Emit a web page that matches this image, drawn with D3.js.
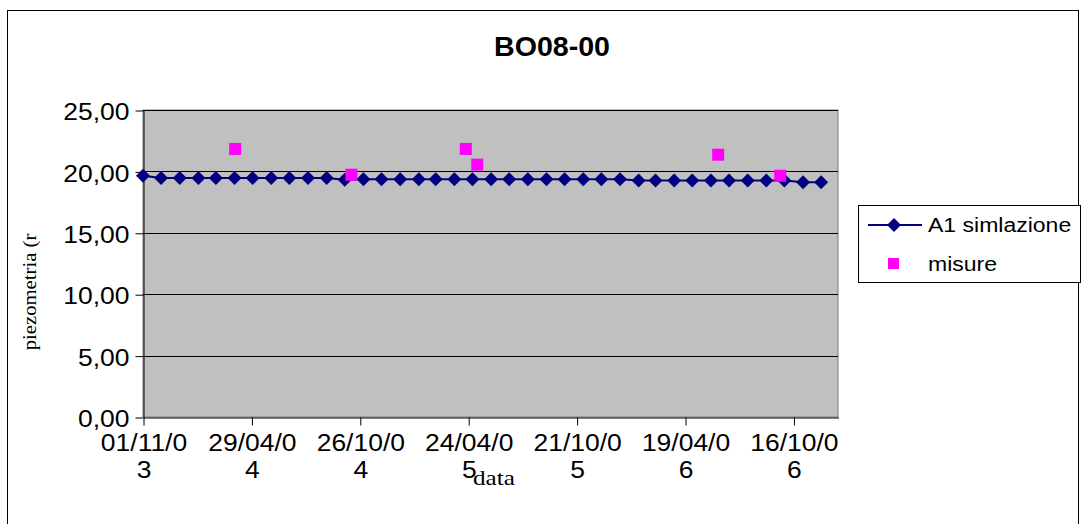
<!DOCTYPE html>
<html>
<head>
<meta charset="utf-8">
<script src="https://cdn.jsdelivr.net/npm/d3@7"></script>
<style>
  html, body { margin: 0; padding: 0; background: #fff; }
  svg { display: block; }
</style>
</head>
<body>
<svg id="chart" width="1082" height="524"></svg>
<script>
// ---------------- DATA ----------------
const chartTitle = "BO08-00";
const yAxisTitle = "piezometria (r";
const xAxisTitle = "data";

const simDates = [
  "2003-11-01","2003-12-01","2004-01-01","2004-02-01","2004-03-01","2004-04-01",
  "2004-05-01","2004-06-01","2004-07-01","2004-08-01","2004-09-01","2004-10-01",
  "2004-11-01","2004-12-01","2005-01-01","2005-02-01","2005-03-01","2005-04-01",
  "2005-05-01","2005-06-01","2005-07-01","2005-08-01","2005-09-01","2005-10-01",
  "2005-11-01","2005-12-01","2006-01-01","2006-02-01","2006-03-01","2006-04-01",
  "2006-05-01","2006-06-01","2006-07-01","2006-08-01","2006-09-01","2006-10-01",
  "2006-11-01","2006-12-01"
];
const simValues = [
  19.65, 19.46, 19.46, 19.46, 19.46, 19.46, 19.46, 19.46, 19.46, 19.46,
  19.46, 19.32, 19.36, 19.36, 19.36, 19.36, 19.36, 19.36, 19.36, 19.36,
  19.36, 19.36, 19.36, 19.36, 19.36, 19.36, 19.36, 19.26, 19.26, 19.26,
  19.26, 19.26, 19.26, 19.26, 19.26, 19.26, 19.12, 19.12
];

const measDates  = ["2004-04-02","2004-10-12","2005-04-20","2005-05-09","2006-06-13","2006-09-24"];
const measValues = [21.83, 19.73, 21.83, 20.55, 21.36, 19.65];

const xDomain = ["2003-11-01", "2006-12-29"];
const xTickDates  = ["2003-11-01","2004-04-29","2004-10-26","2005-04-24","2005-10-21","2006-04-19","2006-10-16"];
const xTickLabels = [["01/11/0","3"],["29/04/0","4"],["26/10/0","4"],["24/04/0","5"],["21/10/0","5"],["19/04/0","6"],["16/10/0","6"]];

const yDomain = [0, 25];
const yTickValues = [0, 5, 10, 15, 20, 25];
const yTickLabels = ["0,00","5,00","10,00","15,00","20,00","25,00"];

const seriesNames = ["A1 simlazione", "misure"];

// ---------------- LAYOUT ----------------
const parse = d3.utcParse("%Y-%m-%d");
const svg = d3.select("#chart");
const plot = { left: 143, right: 838, top: 110, bottom: 417 };
const SANS = "'Liberation Sans', Arial, sans-serif";
const SERIF = "'Liberation Serif', 'Times New Roman', serif";
const STRETCH = 1.15;

function stretch(sel, f) {
  sel.each(function() {
    const len = this.getComputedTextLength();
    if (len > 0) {
      d3.select(this).attr("textLength", len * f).attr("lengthAdjust", "spacingAndGlyphs");
    }
  });
}

const x = d3.scaleUtc().domain(xDomain.map(parse)).range([plot.left, plot.right]);
const y = d3.scaleLinear().domain(yDomain).range([plot.bottom, plot.top]);

// outer border
svg.append("rect")
  .attr("x", 7.5).attr("y", 10.5).attr("width", 1071).attr("height", 530)
  .attr("fill", "#fff").attr("stroke", "#000").attr("stroke-width", 1);

// plot background
svg.append("rect")
  .attr("x", plot.left).attr("y", plot.top)
  .attr("width", plot.right - plot.left).attr("height", plot.bottom - plot.top)
  .attr("fill", "#C0C0C0").attr("stroke", "#808080").attr("stroke-width", 1);

// gridlines
svg.append("g")
  .selectAll("line")
  .data(yTickValues.filter(v => v > 0))
  .join("line")
  .attr("x1", plot.left).attr("x2", plot.right)
  .attr("y1", d => Math.round(y(d)) + 0.5).attr("y2", d => Math.round(y(d)) + 0.5)
  .attr("stroke", "#000").attr("stroke-width", 1);

// y axis
const yAxis = d3.axisLeft(y)
  .tickValues(yTickValues)
  .tickFormat((d, i) => yTickLabels[i])
  .tickSize(8).tickSizeOuter(0).tickPadding(6);
const gy = svg.append("g").attr("transform", `translate(${plot.left + 0.5},0.5)`).call(yAxis);
gy.select(".domain").attr("stroke", "#000");
gy.selectAll(".tick line").attr("stroke", "#000");
gy.selectAll(".tick text")
  .attr("font-family", SANS).attr("font-size", 23).attr("fill", "#000")
  .attr("dy", "0.4em");
stretch(gy.selectAll(".tick text"), STRETCH);

// x axis
const xAxis = d3.axisBottom(x)
  .tickValues(xTickDates.map(parse))
  .tickFormat("")
  .tickSize(8).tickSizeOuter(0);
const gx = svg.append("g").attr("transform", `translate(0.5,${plot.bottom + 0.5})`).call(xAxis);
gx.select(".domain").attr("stroke", "#000");
gx.selectAll(".tick line").attr("stroke", "#000");
gx.selectAll(".tick text").remove();
gx.selectAll(".tick").each(function(d, i) {
  const g = d3.select(this);
  const lines = xTickLabels[i];
  lines.forEach((ln, j) => {
    const t = g.append("text")
      .attr("x", 0).attr("y", 33 + j * 27)
      .attr("text-anchor", "middle")
      .attr("font-family", SANS).attr("font-size", 23).attr("fill", "#000")
      .text(ln);
    stretch(t, STRETCH);
  });
});

// simulation line
const simData = simDates.map((d, i) => ({ date: parse(d), value: simValues[i] }));
svg.append("path")
  .datum(simData)
  .attr("fill", "none")
  .attr("stroke", "#000080")
  .attr("stroke-width", 2)
  .attr("d", d3.line().x(d => x(d.date)).y(d => y(d.value)));

const diamond = d3.symbol().type(d3.symbolSquare).size(98);
svg.append("g").selectAll("path")
  .data(simData)
  .join("path")
  .attr("d", diamond)
  .attr("transform", d => `translate(${x(d.date)},${y(d.value)}) rotate(45)`)
  .attr("fill", "#000080");

// measurements
const measData = measDates.map((d, i) => ({ date: parse(d), value: measValues[i] }));
const sq = 12;
svg.append("g").selectAll("rect")
  .data(measData)
  .join("rect")
  .attr("x", d => x(d.date) - sq / 2)
  .attr("y", d => y(d.value) - sq / 2)
  .attr("width", sq).attr("height", sq)
  .attr("fill", "#FF00FF");

// title
const title = svg.append("text")
  .attr("x", 552).attr("y", 56)
  .attr("text-anchor", "middle")
  .attr("font-family", SANS).attr("font-weight", "bold").attr("font-size", 27)
  .attr("fill", "#000")
  .text(chartTitle);
title.attr("textLength", 116).attr("lengthAdjust", "spacingAndGlyphs");

// y axis title
const yt = svg.append("text")
  .attr("transform", "translate(36,292) rotate(-90)")
  .attr("text-anchor", "middle")
  .attr("font-family", SERIF).attr("font-size", 18).attr("fill", "#000")
  .text(yAxisTitle);
stretch(yt, 1.15);

// x axis title
const xt = svg.append("text")
  .attr("x", 494).attr("y", 485)
  .attr("text-anchor", "middle")
  .attr("font-family", SERIF).attr("font-size", 21).attr("fill", "#000")
  .text(xAxisTitle);
stretch(xt, 1.2);

// legend
const lg = svg.append("g");
lg.append("rect")
  .attr("x", 858.5).attr("y", 205.5).attr("width", 222).attr("height", 77)
  .attr("fill", "#fff").attr("stroke", "#000").attr("stroke-width", 1);
lg.append("line")
  .attr("x1", 868).attr("x2", 922).attr("y1", 225).attr("y2", 225)
  .attr("stroke", "#000080").attr("stroke-width", 2);
lg.append("path")
  .attr("d", diamond)
  .attr("transform", "translate(894,225) rotate(45)")
  .attr("fill", "#000080");
lg.append("rect")
  .attr("x", 888).attr("y", 258).attr("width", sq - 1).attr("height", sq - 1)
  .attr("fill", "#FF00FF");
const lt = lg.selectAll("text.leg")
  .data(seriesNames)
  .join("text")
  .attr("class", "leg")
  .attr("x", 928)
  .attr("y", (d, i) => 232 + i * 39)
  .attr("font-family", SANS).attr("font-size", 20).attr("fill", "#000")
  .text(d => d);
stretch(lt, 1.15);
</script>
</body>
</html>
